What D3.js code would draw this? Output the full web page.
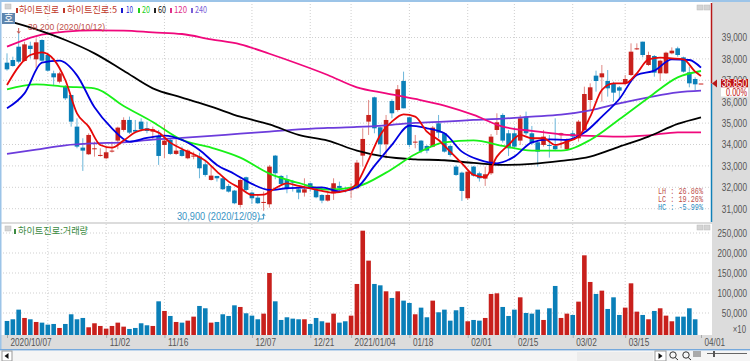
<!DOCTYPE html>
<html>
<head>
<meta charset="utf-8">
<script src="https://d3js.org/d3.v7.min.js"></script>
<style>
    body { margin: 0; background: #fff; overflow: hidden; }
    svg { display: block; }
    text { font-family: "Liberation Sans", sans-serif; }
    .kr { font-family: "Noto Sans CJK KR", sans-serif; }
    .mono { font-family: "Liberation Mono", monospace; }
</style>
</head>
<body>
<svg id="chart" width="750" height="361"></svg>
<script>
// ---- values (won) ----
const highs = [38260,38104,39200,38805,38805,38960,38914,38182,37450,37403,36781,36314,35225,34291,34524,34135,33823,33901,34135,34835,
    35271,35303,35147,35225,35069,34835,34680,34913,34291,34291,33901,33777,33668,33621,33278,33045,32531,32500,32157,31877,
    32422,32500,31799,31643,31799,33044,33512,32577,32577,32344,31955,32422,32219,31955,31674,31752,32422,32266,32032,32188,
    33278,34757,36081,36236,34835,35380,36112,36781,37404,35302,34446,34212,33979,34866,35380,34555,33979,33044,32733,32733,
    32998,32733,32967,34492,35458,35458,34680,34835,35380,35536,34867,34135,34680,34446,35225,34555,34291,34649,35147,36703,
    36858,37450,37715,37481,36936,36734,37248,38727,38727,38805,38338,38182,37948,38338,38540,38571,38104,37637,37139,36850];
const bodyTops = [37824,37948,38571,38680,38618,38774,38883,38182,37326,37326,36734,36314,34835,33855,34446,33823,33512,33637,33714,34789,
    35147,35147,34680,35069,34758,34711,34400,34182,34213,33714,33746,33714,33481,33434,33076,32547,32531,32422,32064,31846,
    32344,32469,31752,31519,31316,32967,33480,32531,32375,32266,31908,31908,32188,31877,31643,31643,32188,32064,31877,31908,
    33153,34259,35380,36205,34804,35146,36034,36579,36968,35271,34134,34181,33932,34788,34991,34524,33932,32967,32686,32733,
    32967,32655,32608,34368,35037,35380,34524,34524,35225,35303,34524,34104,34368,33979,33932,34524,34213,34524,35069,36360,
    36672,37217,37326,36967,36858,36672,37061,38338,38493,38805,38182,38135,37917,38291,38384,38493,38073,37372,37061,36850];
const bodyBottoms = [37512,37668,37871,37902,38462,37980,37917,37450,37139,36936,36158,35068,33901,33714,33543,33777,33465,33356,33668,34182,
    34680,34555,34602,34711,34633,34602,33465,33979,33559,33559,33465,33356,33434,32889,32578,32344,32422,31908,31799,31254,
    31177,31877,31487,31254,31285,31207,32655,32157,31955,32219,31752,31752,32001,31534,31378,31378,31721,31970,31846,31877,
    31955,33480,35069,34757,34010,34010,35458,35613,35691,33979,34103,33698,33714,33901,34555,33667,33512,32577,31830,31488,
    32546,32422,32406,32655,34679,34182,33823,33901,34182,34524,34057,33668,33979,33932,33777,34431,33777,34368,34291,34679,
    36080,36967,37139,36625,36423,36516,36858,37248,38447,38182,37715,37357,37326,37326,38260,38182,37403,36858,36812,36850];
const lows = [37450,37637,37793,37871,38026,37559,37871,37403,36781,36858,36080,34834,33823,32765,33512,33434,33434,33310,33621,33777,
    34602,34493,34524,34602,34524,34213,33045,33356,33512,33512,33434,33310,33310,32422,32500,32313,32266,31877,31753,31208,
    31052,31799,31223,31223,30900,31051,32375,32110,31721,31799,31441,31565,31799,31488,31254,31332,31410,31799,31752,31488,
    31908,32967,34446,34524,33512,33356,35224,35536,35691,33870,33823,33589,33589,33870,34290,33621,33434,32531,31363,31410,
    32500,32266,32064,32577,34446,34088,33465,33777,33979,34446,33979,32967,33901,33387,33746,33823,33714,34291,34135,34601,
    35613,36469,36002,36236,36002,36111,36781,37201,38416,38073,37668,37170,36967,37295,38213,38104,37357,36672,36547,36850];
// candles (and volume bars) that closed up, by candle number
const upDays = [3,5,9,14,15,16,17,18,19,20,25,27,29,31,32,35,40,44,45,51,55,56,59,60,61,62,65,67,70,73,79,82,83,84,88,92,95,96,98,
    99,100,102,106,107,108,110,112,113,114,119];

const volumes = [30100,34300,58400,37600,34300,27600,25900,20900,22600,12600,22600,46800,34300,37600,14300,24300,17600,10900,17600,25900,
    15900,10100,12600,24300,19300,17600,79200,55100,42600,27600,25900,30900,40900,67600,61800,25900,27600,46800,42600,69200,
    65100,49300,43400,34300,48400,150000,79200,32600,39300,35900,34300,34300,22600,37600,29300,25900,48400,25900,29300,43400,
    122600,255800,180900,122600,119200,104200,87600,104200,80900,75100,46800,63400,39300,80900,51800,58400,30900,56800,65100,29300,
    32600,30900,37600,97600,99200,65100,42600,58400,89200,50100,48400,58400,32600,61800,117600,37600,48400,45100,78400,194200,
    127600,97600,105900,60100,89200,45100,63400,124200,53400,45100,34300,55100,61800,43400,29300,40900,40900,61800,34300,0];

// moving averages, read every few candles
const ma5Days = d3.range(0, 119, 2).concat(119);
const ma5 = [36781,37637,38182,38306,37979,37014,35457,34836,33979,33855,34182,34571,34711,34555,34088,33792,33543,33247,32734,32266,
    31955,31643,31659,31955,32188,32063,31955,31830,31752,31830,32188,33278,34446,35069,35411,35302,34601,34212,33667,33122,
    32577,32468,33434,33979,34446,34291,34291,33979,34135,34368,35300,36547,36858,36858,37326,37980,38057,38026,37979,37403,37201];
const ma10Days = d3.range(0, 119, 3).concat(119);
const ma10 = [35691,36391,37824,37917,37232,35738,34758,34135,34306,34415,34213,33746,33045,32625,32157,31877,31955,31986,32001,31814,
    32001,32998,33979,34882,34757,34524,33667,33278,33122,33434,34104,34244,34213,34555,35301,36127,37248,37450,37980,37948,37590];
const slowDays = d3.range(0, 119, 5).concat(119);
const ma20 = [36578,36812,36703,36625,35800,35050,34213,33855,33387,32640,32204,31892,32032,32686,33543,34103,34197,33933,33714,33714,34213,35177,36189,37139,37435];
const ma60 = [39786,39381,38883,38260,37450,36625,36189,35769,35300,34944,34446,34181,33714,33418,33309,33263,33138,33045,33092,33232,33434,33901,34368,34960,35271];
const ma120 = [38571,39069,39272,39334,39319,39241,39163,38914,38680,38240,37762,37248,36672,36392,36127,35816,35380,34835,34633,34477,34400,34368,34431,34570,34570];
const ma240 = [33559,33761,33964,34057,34104,34228,34306,34400,34509,34601,34710,34773,34819,34897,35006,35069,35146,35208,35301,35395,35597,35924,36205,36438,36516];

const priceTicks = [31000,32000,33000,34000,35000,36000,37000,38000,39000];
const volumeTicks = [50000,100000,150000,200000,250000];
const gridDays = [7,17,27,42,52,59,69,79,87,97,106];
const dateTicks = [0,17,27,42,52,59,69,79,87,97,106,119];
const dateLabels = ["2020/10/07","11/02","11/16","12/07","12/21","2021/01/04","01/18","02/01","02/15","03/02","03/15","04/01"];
const lastPrice = 36850;

const RED = "#c8201c", BLUE = "#0a7fb8";
const isUp = new Set(upDays);

const svg = d3.select("#chart");

// scales
const x = d3.scaleLinear().domain([0, 119]).range([7, 701]);
const yPrice = d3.scaleLinear().domain([31000, 39000]).range([208.7, 37.5]);
const yVol = d3.scaleLinear().domain([-5000, 250000]).range([335, 233]);

// the reference font is narrow, so squeeze labels to its width per character
function squeeze(sel, perChar) {
    sel.attr("textLength", function() { return this.textContent.length * perChar; })
        .attr("lengthAdjust", "spacingAndGlyphs");
}

// panels and chrome behind the chart
svg.append("rect").attr("width", 750).attr("height", 361).attr("fill", "#fff");
svg.append("rect").attr("x", 712).attr("y", 2).attr("width", 38).attr("height", 347).attr("fill", "#dcdcdc");
svg.append("rect").attr("x", 0).attr("y", 335).attr("width", 750).attr("height", 14).attr("fill", "#dcdcdc");
svg.append("rect").attr("x", 0).attr("y", 222).attr("width", 712).attr("height", 2).attr("fill", "#dcdcdc");
svg.append("rect").attr("x", 0).attr("y", 349).attr("width", 750).attr("height", 12).attr("fill", "#f5f5f5");
svg.append("rect").attr("x", 0).attr("y", 349).attr("width", 750).attr("height", 1.4).attr("fill", "#74a8dc");
svg.append("rect").attr("x", 0).attr("y", 0).attr("width", 750).attr("height", 2).attr("fill", "#9cc4e8");
svg.append("rect").attr("x", 0).attr("y", 0).attr("width", 1.5).attr("height", 349).attr("fill", "#9cc4e8");

// dotted grid
const grid = svg.append("g").attr("stroke", "#cfcfcf").attr("stroke-dasharray", "1,2").attr("stroke-width", 1);
grid.selectAll(".hp").data(priceTicks).join("line").attr("class", "hp")
    .attr("x1", 3).attr("x2", 711).attr("y1", d => yPrice(d)).attr("y2", d => yPrice(d));
grid.selectAll(".hv").data(volumeTicks).join("line").attr("class", "hv")
    .attr("x1", 3).attr("x2", 711).attr("y1", d => yVol(d)).attr("y2", d => yVol(d));
grid.selectAll(".vp").data(gridDays).join("line").attr("class", "vp")
    .attr("x1", d => x(d)).attr("x2", d => x(d)).attr("y1", 4).attr("y2", 221);
grid.selectAll(".vv").data(gridDays).join("line").attr("class", "vv")
    .attr("x1", d => x(d)).attr("x2", d => x(d)).attr("y1", 224).attr("y2", 335);

// candles
const days = d3.range(highs.length);
const candles = svg.append("g");
candles.selectAll("line").data(days).join("line")
    .attr("x1", d => x(d)).attr("x2", d => x(d))
    .attr("y1", d => yPrice(highs[d])).attr("y2", d => yPrice(lows[d]))
    .attr("stroke", d => isUp.has(d) ? "#e08a86" : "#6cb6da").attr("stroke-width", 1);
candles.selectAll("rect").data(days).join("rect")
    .attr("x", d => x(d) - 2.3).attr("width", 4.6)
    .attr("y", d => yPrice(bodyTops[d]))
    .attr("height", d => Math.max(1, yPrice(bodyBottoms[d]) - yPrice(bodyTops[d])))
    .attr("fill", d => isUp.has(d) ? RED : BLUE);

// moving averages
const maSeries = [
    { days: slowDays, values: ma240, color: "#6c3cdc" },
    { days: slowDays, values: ma120, color: "#f0087c" },
    { days: slowDays, values: ma60, color: "#000000" },
    { days: slowDays, values: ma20, color: "#18f018" },
    { days: ma10Days, values: ma10, color: "#0000e0" },
    { days: ma5Days, values: ma5, color: "#e60808" }
];
const maLine = d3.line().curve(d3.curveMonotoneX);
svg.append("g").selectAll("path").data(maSeries).join("path")
    .attr("fill", "none").attr("stroke", d => d.color).attr("stroke-width", 1.8)
    .attr("d", s => maLine(s.values.map((v, k) => [x(s.days[k]), yPrice(v)])));

// volume bars
svg.append("g").selectAll("rect").data(days).join("rect")
    .attr("x", d => x(d) - 2.3).attr("width", 4.6)
    .attr("y", d => yVol(volumes[d]))
    .attr("height", d => volumes[d] ? yVol(-5000) - yVol(volumes[d]) : 0)
    .attr("fill", d => isUp.has(d) ? RED : BLUE);

// right hand axes
function styleAxis(g) {
    g.select(".domain").remove();
    g.selectAll("text").attr("x", 747).attr("text-anchor", "end").attr("font-size", 10.5).attr("fill", "#555").call(squeeze, 4.2);
}
svg.append("g").call(d3.axisRight(yPrice).tickValues(priceTicks).tickFormat(d3.format(",")).tickSize(0)).call(styleAxis);
svg.append("g").call(d3.axisRight(yVol).tickValues(volumeTicks).tickFormat(d3.format(",")).tickSize(0)).call(styleAxis);
svg.append("text").attr("x", 746).attr("y", 333).attr("text-anchor", "end")
    .attr("font-size", 10.5).attr("fill", "#555").text("×10").call(squeeze, 4.4);

// date axis, labels sit to the right of their tick
const xAxis = svg.append("g").attr("transform", "translate(0,335)")
    .call(d3.axisBottom(x).tickValues(dateTicks).tickFormat((d, k) => dateLabels[k]).tickSize(3).tickPadding(1));
xAxis.select(".domain").remove();
xAxis.selectAll("line").attr("stroke", "#aaa");
xAxis.selectAll("text").attr("text-anchor", "start").attr("dx", 3)
    .attr("font-size", 10.5).attr("fill", "#555").call(squeeze, 4.1);

// price edge: red above the last price, blue under it
svg.append("line").attr("x1", 711.5).attr("x2", 711.5).attr("y1", 3).attr("y2", yPrice(lastPrice))
    .attr("stroke", "#b81818").attr("stroke-width", 1.5);
svg.append("line").attr("x1", 711.5).attr("x2", 711.5).attr("y1", yPrice(lastPrice)).attr("y2", 222)
    .attr("stroke", "#1080b8").attr("stroke-width", 1.5);
svg.append("path").attr("fill", "#b81818")
    .attr("d", `M712,${yPrice(lastPrice)} l5,-4 v8 z`);
svg.append("rect").attr("x", 721).attr("y", yPrice(lastPrice) - 4.5).attr("width", 27).attr("height", 8.5).attr("fill", "#c01414");
svg.append("rect").attr("x", 721).attr("y", yPrice(lastPrice) + 4).attr("width", 27).attr("height", 9).attr("fill", "#fff");
svg.append("text").attr("x", 747).attr("y", yPrice(lastPrice) + 3).attr("text-anchor", "end")
    .attr("font-size", 10).attr("fill", "#fff").text(d3.format(",")(lastPrice)).call(squeeze, 4.2);
svg.append("text").attr("x", 747).attr("y", yPrice(lastPrice) + 12).attr("text-anchor", "end")
    .attr("font-size", 10).attr("fill", "#c01414").text("0.00%").call(squeeze, 4.2);

// high / low notes
svg.append("text").attr("x", 28).attr("y", 30).attr("font-size", 9.5).attr("fill", "#c0504a")
    .attr("textLength", 77).attr("lengthAdjust", "spacingAndGlyphs").text("39,200 (2020/10/12)");
svg.append("path").attr("fill", "none").attr("stroke", "#c0504a")
    .attr("d", `M${x(2)},28 V${yPrice(39200)} m-1.5,-2 l1.5,2 l1.5,-2`);
svg.append("text").attr("x", 177).attr("y", 220).attr("font-size", 10).attr("fill", "#3a94c4")
    .attr("textLength", 83).attr("lengthAdjust", "spacingAndGlyphs").text("30,900 (2020/12/09)");
svg.append("path").attr("fill", "none").attr("stroke", "#3a94c4")
    .attr("d", `M258,219 H${x(44)} V${yPrice(30900) + 3} m-1.5,2 l1.5,-2 l1.5,2`);

// ratio block
const ratioRows = [["LH : 26.86%", "#c0504a", 194], ["LC : 19.26%", "#c0504a", 202], ["HC : -5.99%", "#2a8cc0", 210]];
svg.append("g").selectAll("text").data(ratioRows).join("text").attr("class", "mono")
    .attr("x", 658).attr("y", d => d[2]).attr("font-size", 9.5).attr("fill", d => d[1])
    .attr("textLength", 45).attr("lengthAdjust", "spacingAndGlyphs").text(d => d[0]);

// legends
const legendRows = [
    { box: 16, x: 19, w: 40, text: "하이트진로", color: "#c0392b" },
    { box: 63, x: 67, w: 50, text: "하이트진로:5", color: "#c0392b" },
    { box: 121, x: 126, w: 7, text: "10", color: "#1818d0" },
    { box: 138, x: 142, w: 8, text: "20", color: "#22d020" },
    { box: 154, x: 158, w: 8, text: "60", color: "#222" },
    { box: 170, x: 174, w: 13, text: "120", color: "#e0308c" },
    { box: 191, x: 195, w: 12, text: "240", color: "#7a60d8" },
    { box: 14, x: 18, w: 70, y: 234, text: "하이트진로:거래량", color: "#3a8a40" }
];
const legend = svg.append("g");
legend.selectAll("rect").data(legendRows).join("rect")
    .attr("x", d => d.box).attr("y", d => (d.y || 13) - 5).attr("width", 2).attr("height", 5).attr("fill", d => d.color);
legend.selectAll("text").data(legendRows).join("text").attr("class", "kr")
    .attr("x", d => d.x).attr("y", d => d.y || 13).attr("font-size", 9.5).attr("fill", d => d.color)
    .attr("textLength", d => d.w).attr("lengthAdjust", "spacingAndGlyphs").text(d => d.text);

// small window buttons
const panelButtons = [[5, 4], [5, 226], [697, 5], [704, 5], [697, 225], [704, 225]];
svg.append("g").selectAll("rect").data(panelButtons).join("rect")
    .attr("x", d => d[0]).attr("y", d => d[1]).attr("width", 6).attr("height", 5)
    .attr("fill", "#d4d4d4").attr("stroke", "#bbb").attr("stroke-width", 0.5);
svg.append("rect").attr("x", 2).attr("y", 13).attr("width", 13).attr("height", 11).attr("fill", "#5f86ae");
svg.append("text").attr("class", "kr").attr("x", 8.5).attr("y", 22).attr("text-anchor", "middle")
    .attr("font-size", 10).attr("fill", "#fff").text("호");

// bottom toolbar
svg.append("rect").attr("x", 2).attr("y", 351).attr("width", 10).attr("height", 10).attr("fill", "#fff").attr("stroke", "#999");
svg.append("path").attr("d", "M4.5,356 l4,-3 v6 z").attr("fill", "#111");
svg.append("rect").attr("x", 577).attr("y", 352).attr("width", 76).attr("height", 9).attr("fill", "#ececec");
svg.append("rect").attr("x", 655).attr("y", 351).attr("width", 11).attr("height", 10).attr("fill", "#fff").attr("stroke", "#999");
svg.append("path").attr("d", "M658.5,353 l4,3 l-4,3 z").attr("fill", "#111");
[673, 686].forEach(cx => {
    svg.append("circle").attr("cx", cx).attr("cy", 355).attr("r", 3.2).attr("fill", "none").attr("stroke", "#333");
    svg.append("line").attr("x1", cx + 2.2).attr("y1", 357.5).attr("x2", cx + 5).attr("y2", 360).attr("stroke", "#333");
});
svg.append("rect").attr("x", 693).attr("y", 351).attr("width", 8).attr("height", 6).attr("fill", "#aaa");
svg.append("line").attr("x1", 707).attr("x2", 747).attr("y1", 353.5).attr("y2", 353.5).attr("stroke", "#666");
svg.append("rect").attr("x", 713).attr("y", 351).attr("width", 2).attr("height", 6).attr("fill", "#555");
</script>
</body>
</html>
